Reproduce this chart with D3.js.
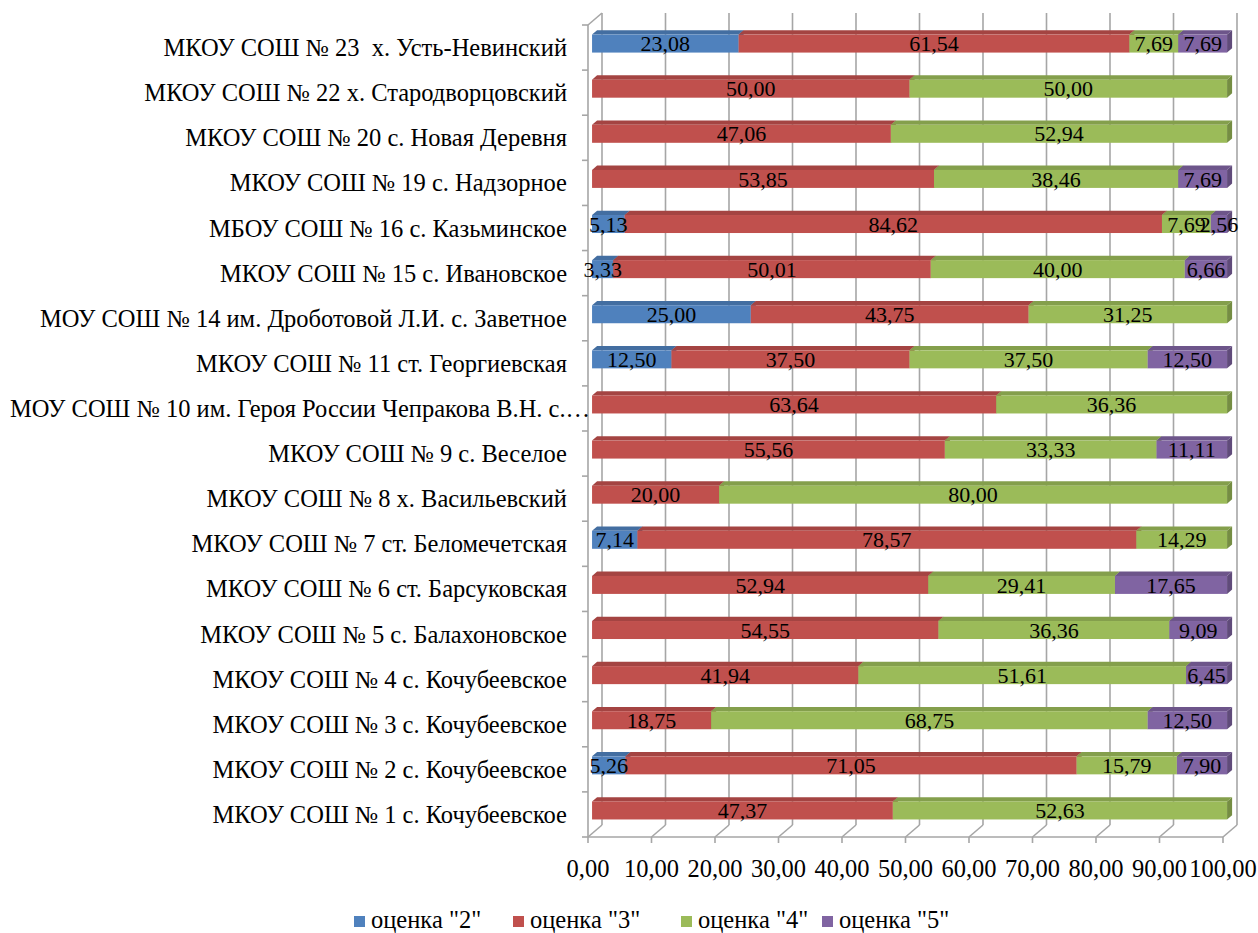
<!DOCTYPE html>
<html><head><meta charset="utf-8">
<script src="https://cdn.jsdelivr.net/npm/d3@7"></script>
<style>
html,body{margin:0;padding:0;background:#fff;}
svg text{font-family:"Liberation Serif","Times New Roman",serif;fill:#000;white-space:pre;}
</style></head>
<body><svg id="chart" width="1258" height="933"></svg>
<script>
const categories = [
  "МКОУ СОШ № 1 с. Кочубеевское",
  "МКОУ СОШ № 2 с. Кочубеевское",
  "МКОУ СОШ № 3 с. Кочубеевское",
  "МКОУ СОШ № 4 с. Кочубеевское",
  "МКОУ СОШ № 5 с. Балахоновское",
  "МКОУ СОШ № 6 ст. Барсуковская",
  "МКОУ СОШ № 7 ст. Беломечетская",
  "МКОУ СОШ № 8 х. Васильевский",
  "МКОУ СОШ № 9 с. Веселое",
  "МОУ СОШ № 10 им. Героя России Чепракова В.Н. с.…",
  "МКОУ СОШ № 11 ст. Георгиевская",
  "МОУ СОШ № 14 им. Дроботовой Л.И. с. Заветное",
  "МКОУ СОШ № 15 с. Ивановское",
  "МБОУ СОШ № 16 с. Казьминское",
  "МКОУ СОШ № 19 с. Надзорное",
  "МКОУ СОШ № 20 с. Новая Деревня",
  "МКОУ СОШ № 22 х. Стародворцовский",
  "МКОУ СОШ № 23  х. Усть-Невинский"
];
const grade2 = [0, 5.26, 0, 0, 0, 0, 7.14, 0, 0, 0, 12.50, 25.00, 3.33, 5.13, 0, 0, 0, 23.08];
const grade3 = [47.37, 71.05, 18.75, 41.94, 54.55, 52.94, 78.57, 20.00, 55.56, 63.64, 37.50, 43.75, 50.01, 84.62, 53.85, 47.06, 50.00, 61.54];
const grade4 = [52.63, 15.79, 68.75, 51.61, 36.36, 29.41, 14.29, 80.00, 33.33, 36.36, 37.50, 31.25, 40.00, 7.69, 38.46, 52.94, 50.00, 7.69];
const grade5 = [0, 7.90, 12.50, 6.45, 9.09, 17.65, 0, 0, 11.11, 0, 12.50, 0, 6.66, 2.56, 7.69, 0, 0, 7.69];
const seriesNames = ['оценка "2"', 'оценка "3"', 'оценка "4"', 'оценка "5"'];
const seriesColors = ["#4F81BD", "#C0504D", "#9BBB59", "#8064A2"];
const xTicks = [0,10,20,30,40,50,60,70,80,90,100];

const svg = d3.select("#chart");
const fmt = v => v.toFixed(2).replace(".", ",");
const FS = 24.5, FSD = 22;

// front plane scales
const x = d3.scaleLinear().domain([0,100]).range([588,1223]);
const y = d3.scaleBand().domain(categories.slice().reverse()).range([25,837]);
const DX = 14, DY = -12; // full depth offset

// walls / gridlines
const grid = svg.append("g").attr("stroke","#a6a6a6").attr("stroke-width",1.6).attr("fill","none");
xTicks.forEach(t=>{
  const x0 = x(t);
  grid.append("line").attr("x1",x0+DX).attr("x2",x0+DX).attr("y1",y.range()[0]+DY).attr("y2",y.range()[1]+DY);
  grid.append("line").attr("x1",x0).attr("y1",837).attr("x2",x0+DX).attr("y2",837+DY);
  grid.append("line").attr("x1",x0).attr("x2",x0).attr("y1",837).attr("y2",843);
});
grid.append("line").attr("x1",x(0)).attr("x2",x(0)).attr("y1",25).attr("y2",837);
grid.append("line").attr("x1",x(0)).attr("y1",25).attr("x2",x(0)+DX).attr("y2",25+DY);
grid.append("line").attr("x1",x(0)).attr("y1",837).attr("x2",x(100)).attr("y2",837);
const bounds = categories.map(c=>y(c)).concat([y.range()[1]]);
bounds.forEach(b=>{
  grid.append("line").attr("x1",x(0)-6).attr("x2",x(0)).attr("y1",b).attr("y2",b);
});

// bars
const series = [grade2, grade3, grade4, grade5];
const F1 = 0.29, F2 = 0.65, BH = 18;
const shade = (c,k)=>d3.color(c).darker(k).formatHex();
const bars = svg.append("g");
const labels = svg.append("g").attr("font-size",FSD).attr("text-anchor","middle");
categories.forEach((cat,i)=>{
  const cy = y(cat) + y.bandwidth()/2 + DY*F1 - 0.5;
  const top = cy - BH/2, bot = cy + BH/2;
  const ox1 = DX*F1;
  const ddx = DX*(F2-F1), ddy = DY*(F2-F1);
  let acc = 0;
  series.forEach((s,k)=>{
    const v = s[i];
    if(!v) return;
    const xa = x(acc)+ox1, xb = x(acc+v)+ox1;
    const col = seriesColors[k];
    bars.append("polygon").attr("points",[[xb,top],[xb+ddx,top+ddy],[xb+ddx,bot+ddy],[xb,bot]].join(" "))
      .attr("fill",shade(col,0.8));
    bars.append("polygon").attr("points",[[xa,top],[xa+ddx,top+ddy],[xb+ddx,top+ddy],[xb,top]].join(" "))
      .attr("fill",shade(col,0.45));
    bars.append("rect").attr("x",xa).attr("y",top).attr("width",xb-xa).attr("height",BH).attr("fill",col);
    labels.append("text").attr("x",(xa+xb)/2).attr("y",cy).attr("dy","0.35em").text(fmt(v));
    acc += v;
  });
});

// category labels
const catG = svg.append("g").attr("font-size",FS);
categories.forEach(cat=>{
  const t = catG.append("text").attr("x",567).attr("y",y(cat)+y.bandwidth()/2).attr("dy","0.35em").attr("text-anchor","end").text(cat);
  const w = t.node().getComputedTextLength();
  if (567 - w < 8) { t.attr("text-anchor","start").attr("x",10); }
});

// x tick labels
const xl = svg.append("g").attr("font-size",FS).attr("text-anchor","middle");
xTicks.forEach(t=>{
  xl.append("text").attr("x",x(t)).attr("y",868).attr("dy","0.35em").text(fmt(t));
});

// legend
const legX = [354, 513, 681, 822];
const leg = svg.append("g").attr("font-size",FS);
seriesNames.forEach((n,k)=>{
  leg.append("rect").attr("x",legX[k]).attr("y",916).attr("width",11).attr("height",11).attr("fill",seriesColors[k]);
  leg.append("text").attr("x",legX[k]+17).attr("y",928).text(n);
});
</script></body></html>
